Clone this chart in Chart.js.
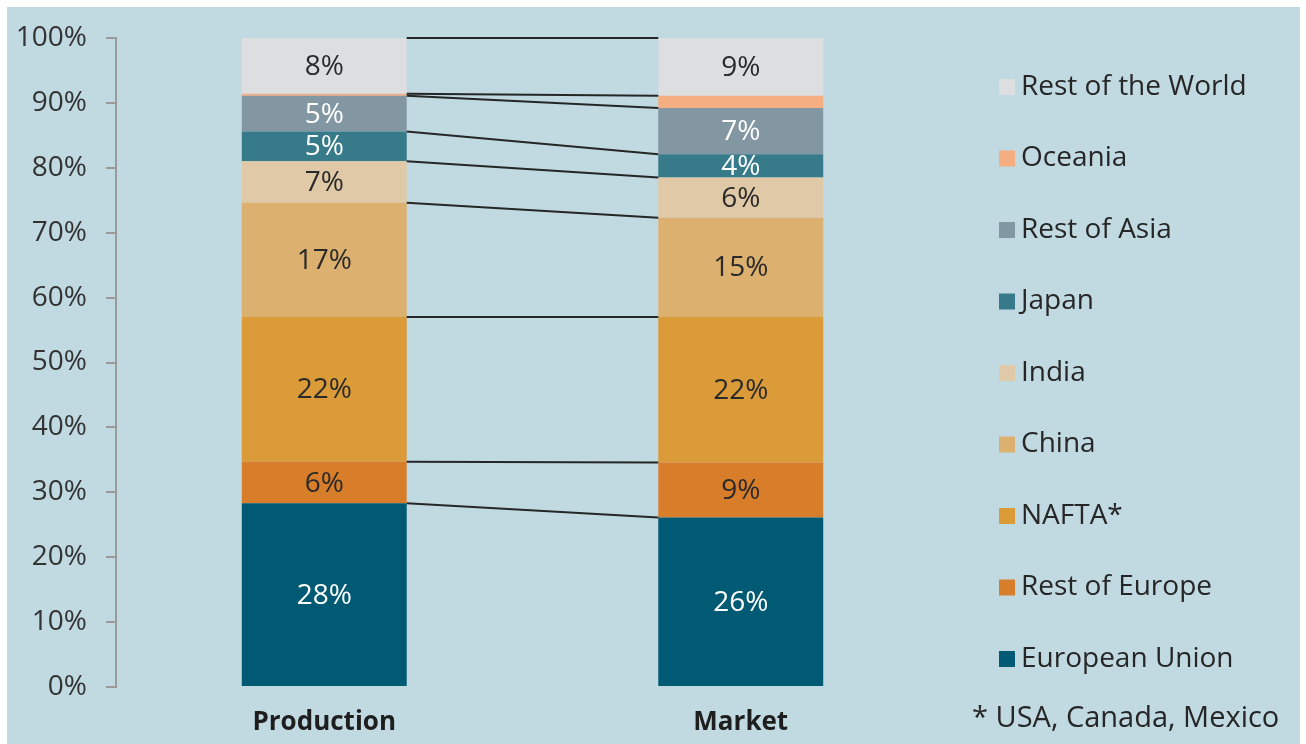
<!DOCTYPE html>
<html><head><meta charset="utf-8">
<script src="https://cdn.jsdelivr.net/npm/chart.js@4.4.1/dist/chart.umd.min.js"></script>
<style>
html,body{margin:0;padding:0;background:#fff;overflow:hidden;}
#wrap{position:absolute;left:0;top:0;width:1306px;height:744px;}
</style></head><body>
<div id="wrap"><canvas id="c" width="1306" height="744"></canvas></div>
<script>
// ---- data ----
const categories = ['Production', 'Market'];
const seriesNames = ['European Union', 'Rest of Europe', 'NAFTA*', 'China', 'India', 'Japan', 'Rest of Asia', 'Oceania', 'Rest of the World'];
const europeanUnion = [28.3, 26.1];
const restOfEurope  = [6.4, 8.5];
const nafta         = [22.3, 22.4];
const china         = [17.6, 15.3];
const india         = [6.4, 6.2];
const japan         = [4.6, 3.6];
const restOfAsia    = [5.5, 7.1];
const oceania       = [0.3, 1.9];
const restOfWorld   = [8.6, 8.9];
const productionLabels = ['28%', '6%', '22%', '17%', '7%', '5%', '5%', '', '8%'];
const marketLabels     = ['26%', '9%', '22%', '15%', '6%', '4%', '7%', '', '9%'];
const yTicks = [0, 10, 20, 30, 40, 50, 60, 70, 80, 90, 100];
const footnote = '* USA, Canada, Mexico';

// ---- styles ----
const seriesValues = [europeanUnion, restOfEurope, nafta, china, india, japan, restOfAsia, oceania, restOfWorld];
const seriesColors = ['#005a73', '#d87e2a', '#db9b38', '#dcb06e', '#dfc9a6', '#377a8a', '#8397a3', '#f4ae82', '#dcdee0'];
const labelColors  = ['#ffffff', '#2a2a2a', '#2a2a2a', '#2a2a2a', '#2a2a2a', '#ffffff', '#ffffff', '#2a2a2a', '#2a2a2a'];
const pointLabels = [productionLabels, marketLabels];
const FONT = "'Open Sans', 'Noto Sans', sans-serif";
const TEXT = '#262626';
const PANEL = '#c1d9e1';

const panelPlugin = {
  id: 'panel',
  beforeDraw(chart) {
    const c = chart.ctx;
    c.save();
    c.fillStyle = '#ffffff';
    c.fillRect(0, 0, chart.width, chart.height);
    c.fillStyle = PANEL;
    c.fillRect(7, 7, 1293, 737);
    c.restore();
  }
};

const seriesLinesPlugin = {
  id: 'seriesLines',
  afterDatasetsDraw(chart) {
    const c = chart.ctx;
    c.save();
    c.strokeStyle = '#262626';
    c.lineWidth = 2;
    chart.data.datasets.forEach((ds, i) => {
      const meta = chart.getDatasetMeta(i);
      const a = meta.data[0], b = meta.data[1];
      c.beginPath();
      c.moveTo(a.x + a.width / 2, a.y);
      c.lineTo(b.x - b.width / 2, b.y);
      c.stroke();
    });
    c.restore();
  }
};

const labelsPlugin = {
  id: 'segLabels',
  afterDatasetsDraw(chart) {
    const c = chart.ctx;
    c.save();
    c.font = '28px ' + FONT;
    c.textAlign = 'center';
    c.textBaseline = 'middle';
    chart.data.datasets.forEach((ds, i) => {
      const meta = chart.getDatasetMeta(i);
      meta.data.forEach((el, j) => {
        const t = pointLabels[j][i];
        if (!t) return;
        c.fillStyle = labelColors[i];
        c.fillText(t, el.x, (el.y + el.base) / 2 + 1);
      });
    });
    c.restore();
  }
};

const legendPlugin = {
  id: 'customLegend',
  afterDraw(chart) {
    const c = chart.ctx;
    c.save();
    c.font = '28px ' + FONT;
    c.textBaseline = 'middle';
    c.textAlign = 'left';
    const n = chart.data.datasets.length;
    for (let k = 0; k < n; k++) {
      const i = n - 1 - k;
      const ds = chart.data.datasets[i];
      const cy = 87 + k * 71.5;
      c.fillStyle = ds.backgroundColor;
      c.fillRect(999, cy - 8, 16, 16);
      c.fillStyle = TEXT;
      c.fillText(ds.label, 1021, cy);
    }
    c.font = '29px ' + FONT;
    c.fillText(footnote, 972, 719);
    c.restore();
  }
};

const ctx = document.getElementById('c').getContext('2d');
new Chart(ctx, {
  type: 'bar',
  data: {
    labels: categories,
    datasets: seriesNames.map((n, i) => ({
      label: n,
      data: seriesValues[i],
      backgroundColor: seriesColors[i],
      borderWidth: 0,
      barPercentage: 0.396,
      categoryPercentage: 1
    }))
  },
  options: {
    responsive: false,
    animation: false,
    devicePixelRatio: 1,
    layout: { padding: { left: 0, top: 38, right: 357, bottom: 0 } },
    plugins: { legend: { display: false }, tooltip: { enabled: false } },
    scales: {
      x: {
        stacked: true,
        grid: { display: false, drawTicks: false },
        border: { display: false },
        ticks: { font: { family: FONT, size: 26, weight: 'bold' }, color: '#1e1e1e', padding: 20 },
        afterFit(s) { s.height = 57; }
      },
      y: {
        stacked: true,
        min: 0, max: 100,
        afterBuildTicks(s) { s.ticks = yTicks.map(v => ({ value: v })); },
        ticks: { callback: v => v + '%', font: { family: FONT, size: 28 }, color: '#333333', padding: 19 },
        grid: { drawOnChartArea: false, drawTicks: true, tickLength: 10, color: '#9a9a9a', lineWidth: 2 },
        border: { display: true, color: '#9a9a9a', width: 2 },
        afterFit(s) { s.width = 116; }
      }
    }
  },
  plugins: [panelPlugin, seriesLinesPlugin, labelsPlugin, legendPlugin]
});
</script>
</body></html>
